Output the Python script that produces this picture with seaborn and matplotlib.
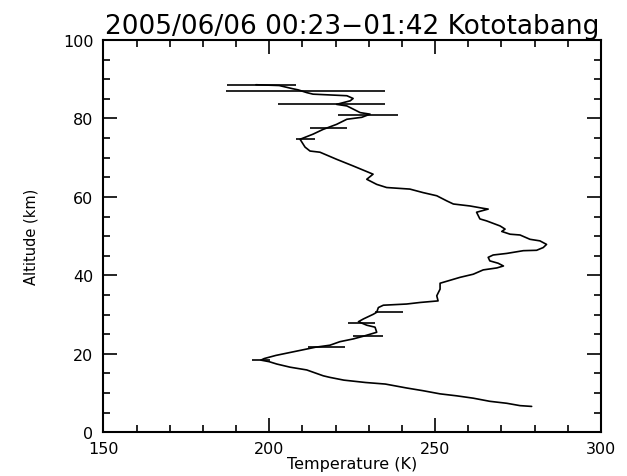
import matplotlib
matplotlib.use("Agg")
import matplotlib.pyplot as plt
import seaborn as sns
import pandas as pd
from matplotlib.ticker import MultipleLocator

# Temperature profile (altitude in km, temperature in K), top to bottom
altitude = [88.6, 88.4, 87.6, 87.3, 86.6, 86.2, 85.8, 85.1, 84.5, 83.6,
            83.2, 82.4, 81.5, 81.1, 80.3, 79.8, 78.5, 77.2, 76.0, 74.7,
            72.7, 71.7, 71.4, 69.6, 67.9, 65.8, 64.5, 63.2, 62.4, 62.0,
            61.1, 60.3, 59.0, 58.2, 57.7, 57.1, 56.9, 56.1, 54.4, 53.9,
            52.6, 51.8, 51.2, 50.5, 50.3, 49.2, 48.8, 47.9, 47.1, 46.4,
            46.3, 45.6, 45.2, 44.6, 43.7, 43.1, 42.4, 41.9, 41.4, 40.3,
            39.5, 38.5, 38.0, 36.5, 34.8, 33.5, 33.1, 32.7, 32.4, 31.8,
            30.6, 30.1, 28.9, 28.2, 27.3, 26.8, 25.5, 24.5, 23.8, 23.1,
            22.2, 21.7, 21.0, 20.3, 19.6, 18.8, 18.4, 18.0, 17.4, 16.6,
            15.9, 14.4, 14.0, 13.3, 12.7, 12.3, 11.3, 10.6, 9.8, 9.3,
            8.7, 7.9, 7.4, 6.8, 6.6]
temperature = [196.0, 203.0, 207.0, 208.7, 211.3, 213.2, 223.4, 225.3, 224.4, 220.3,
               223.4, 225.3, 227.4, 230.4, 227.9, 223.4, 220.3, 216.2, 213.2, 209.3,
               210.8, 212.3, 215.3, 220.3, 225.3, 231.3, 229.4, 232.4, 235.4, 242.4,
               246.4, 250.5, 253.5, 255.5, 260.5, 264.5, 266.0, 262.5, 263.5, 265.5,
               269.6, 271.1, 270.1, 272.6, 275.6, 278.6, 281.6, 283.6, 282.6, 280.6,
               276.6, 271.6, 267.5, 266.0, 266.5, 269.0, 270.6, 268.6, 264.5, 261.5,
               257.5, 253.5, 251.5, 251.5, 250.5, 250.9, 245.5, 241.4, 234.4, 232.9,
               232.4, 231.4, 228.4, 226.9, 229.4, 231.9, 232.4, 228.4, 225.3, 221.3,
               218.3, 214.0, 210.0, 206.0, 202.0, 198.5, 197.5, 200.0, 202.3, 206.3,
               211.3, 216.3, 218.3, 222.5, 229.0, 235.0, 241.4, 246.4, 251.5, 256.5,
               261.5, 266.5, 271.6, 275.6, 279.1]

# Horizontal error bars
err_altitude = [88.6, 86.9, 83.6, 80.8, 77.5, 74.7, 30.7, 27.8, 24.6, 21.7, 18.4]
err_center = [197.7, 211.0, 218.8, 229.8, 217.8, 211.0, 236.0, 227.8, 229.9, 217.3, 197.5]
err_half = [10.5, 23.9, 16.1, 9.0, 5.5, 2.8, 4.2, 4.2, 4.5, 5.5, 2.8]

title = "2005/06/06 00:23\u221201:42 Kototabang"
xlabel = "Temperature (K)"
ylabel = "Altitude (km)"
xticks = [150, 200, 250, 300]
yticks = [0, 20, 40, 60, 80, 100]

sns.set_style("ticks")
plt.rcParams['font.family'] = ['DejaVu Sans']
plt.rcParams['text.color'] = 'black'
plt.rcParams['axes.labelcolor'] = 'black'
plt.rcParams['xtick.color'] = 'black'
plt.rcParams['ytick.color'] = 'black'

fig = plt.figure(figsize=(6.27, 4.77), dpi=100)
ax = fig.add_axes([0.1648, 0.0916, 0.9585 - 0.1648, 0.914 - 0.0916])

df = pd.DataFrame({"T": temperature, "alt": altitude})
sns.lineplot(data=df, x="T", y="alt", sort=False, estimator=None,
             color="black", linewidth=1.2, ax=ax)
ax.errorbar(err_center, err_altitude, xerr=err_half, fmt="none",
            ecolor="black", elinewidth=1.2, capsize=0)

ax.set_xlim(150, 300)
ax.set_ylim(0, 100)
ax.set_xticks(xticks)
ax.set_yticks(yticks)
ax.xaxis.set_minor_locator(MultipleLocator(10))
ax.yaxis.set_minor_locator(MultipleLocator(5))
ax.tick_params(which="both", direction="in", top=True, right=True,
               color="black", width=1.2)
ax.tick_params(which="major", length=10, labelsize=11.5)
ax.tick_params(axis="x", which="major", pad=6)
ax.tick_params(axis="y", which="major", pad=7)
ax.tick_params(which="minor", length=5)
for s in ax.spines.values():
    s.set_visible(True)
    s.set_linewidth(1.5)
    s.set_color("black")

ax.set_xlabel(xlabel, fontsize=11.5, labelpad=0)
ax.set_ylabel(ylabel, fontsize=10.5, labelpad=18)
ax.set_title(title, fontsize=19, pad=5, color="black")

fig.savefig("out.png", dpi=100, facecolor="white")
